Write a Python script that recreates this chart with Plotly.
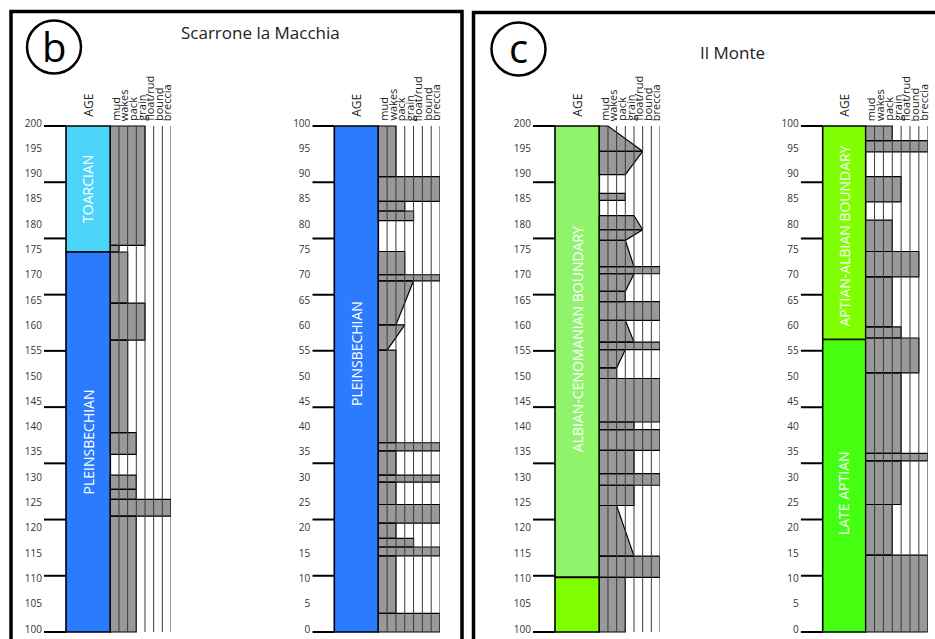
import plotly.graph_objects as go

W, H = 935, 639

# ---------------- data ----------------
TEXTURES = ["mud", "wakes", "pack", "grain", "float/rud", "bound", "breccia"]

# Scarrone la Macchia, interval 100-200
scar_hi_top = [200, 176.4, 175.1, 165.0, 157.7, 139.4, 131.0, 128.2, 126.2, 122.9]
scar_hi_base = [176.4, 175.1, 165.0, 157.7, 139.4, 135.1, 128.2, 126.2, 122.9, 100]
scar_hi_tex_top = [4, 1, 2, 4, 2, 3, 3, 3, 7, 3]
scar_hi_tex_base = [4, 1, 2, 4, 2, 3, 3, 3, 7, 3]

# Scarrone la Macchia, interval 0-100
scar_lo_top = [100, 90.0, 85.1, 83.2, 75.2, 70.6, 69.4, 60.7, 55.7, 37.4, 35.8, 31.0, 29.6, 25.2, 21.5, 18.5, 16.8, 15.05, 3.7]
scar_lo_base = [90.0, 85.1, 83.2, 81.3, 70.6, 69.4, 60.7, 55.7, 37.4, 35.8, 31.0, 29.6, 25.2, 21.5, 18.5, 16.8, 15.05, 3.7, 0]
scar_lo_tex_top = [2, 7, 3, 4, 3, 7, 4, 3, 2, 7, 2, 7, 2, 7, 2, 4, 7, 2, 7]
scar_lo_tex_base = [2, 7, 3, 4, 3, 7, 2, 1, 2, 7, 2, 7, 2, 7, 2, 4, 7, 2, 7]

# Il Monte, interval 100-200
monte_hi_top = [200, 195.0, 186.7, 182.3, 179.5, 177.4, 172.2, 170.8, 167.3, 165.3, 161.6, 157.3, 155.8, 152.2, 150.1, 141.5, 140.0, 135.9, 131.3, 129.0, 125.0, 115.0, 110.8]
monte_hi_base = [195.0, 190.4, 185.3, 179.5, 177.4, 172.2, 170.8, 167.3, 165.3, 161.6, 157.3, 155.8, 152.2, 150.1, 141.5, 140.0, 135.9, 131.3, 129.0, 125.0, 115.0, 110.8, 100]
monte_hi_tex_top = [1, 5, 3, 4, 5, 3, 7, 4, 3, 7, 3, 7, 3, 2, 7, 4, 7, 4, 7, 4, 2, 7, 3]
monte_hi_tex_base = [5, 3, 3, 5, 3, 4, 7, 3, 3, 7, 4, 7, 2, 2, 7, 4, 7, 4, 7, 4, 4, 7, 3]

# Il Monte, interval 0-100
monte_lo_top = [100, 97.1, 90.0, 81.4, 75.2, 70.2, 60.3, 58.1, 51.2, 35.3, 33.8, 25.2, 15.2]
monte_lo_base = [97.1, 94.9, 85.0, 75.2, 70.2, 60.3, 58.1, 51.2, 35.3, 33.8, 25.2, 15.2, 0]
monte_lo_tex_top = [3, 7, 4, 3, 6, 3, 4, 6, 4, 7, 4, 3, 7]
monte_lo_tex_base = [3, 7, 4, 3, 6, 3, 4, 6, 4, 7, 4, 3, 7]

# AGE units
scar_hi_age_names = ["TOARCIAN", "PLEINSBECHIAN"]
scar_hi_age_top = [200, 175.1]
scar_hi_age_base = [175.1, 100]
scar_hi_age_label_y = [187.6, 137.5]
scar_hi_age_colors = ["#4dd4fa", "#2b7bff"]

scar_lo_age_names = ["PLEINSBECHIAN"]
scar_lo_age_top = [100]
scar_lo_age_base = [0]
scar_lo_age_label_y = [55.0]
scar_lo_age_colors = ["#2b7bff"]

monte_hi_age_names = ["ALBIAN-CENOMANIAN BOUNDARY", ""]
monte_hi_age_top = [200, 110.8]
monte_hi_age_base = [110.8, 100]
monte_hi_age_label_y = [157.9, 105]
monte_hi_age_colors = ["#8ff36c", "#80ff00"]

monte_lo_age_names = ["APTIAN-ALBIAN BOUNDARY", "LATE APTIAN"]
monte_lo_age_top = [100, 57.8]
monte_lo_age_base = [57.8, 0]
monte_lo_age_label_y = [78.2, 27.5]
monte_lo_age_colors = ["#80ff00", "#44ff10"]

# axis ticks
TICK_LABELS_HI = list(range(100, 201, 5))
TICK_LABELS_LO = list(range(0, 101, 5))
TICK_MARKS_HI = [100, 111.11, 122.22, 133.33, 144.44, 155.56, 166.67, 177.78, 188.89, 200]
TICK_MARKS_LO = [0, 11.11, 22.22, 33.33, 44.44, 55.56, 66.67, 77.78, 88.89, 100]

# ---------------- layout geometry (pixels) ----------------
FONT = "Open Sans"
TICK_PX = 22
LABEL_LIFT_PX = 3          # tick labels sit slightly above their ticks
PAD_PX = 5                 # empty room above/below each log inside the axis
Y_TOP_PX, Y_BOT_PX = 126, 632
PLOT_H = Y_BOT_PX - Y_TOP_PX

columns = [
    dict(age_l=66, age_r=110.3, end=171, yr=(100, 200),
         top=scar_hi_top, base=scar_hi_base, tt=scar_hi_tex_top, tb=scar_hi_tex_base,
         an=scar_hi_age_names, at=scar_hi_age_top, ab=scar_hi_age_base,
         ay=scar_hi_age_label_y, ac=scar_hi_age_colors,
         labels=TICK_LABELS_HI, marks=TICK_MARKS_HI),
    dict(age_l=334.3, age_r=378.3, end=440, yr=(0, 100),
         top=scar_lo_top, base=scar_lo_base, tt=scar_lo_tex_top, tb=scar_lo_tex_base,
         an=scar_lo_age_names, at=scar_lo_age_top, ab=scar_lo_age_base,
         ay=scar_lo_age_label_y, ac=scar_lo_age_colors,
         labels=TICK_LABELS_LO, marks=TICK_MARKS_LO),
    dict(age_l=555, age_r=599.3, end=660, yr=(100, 200),
         top=monte_hi_top, base=monte_hi_base, tt=monte_hi_tex_top, tb=monte_hi_tex_base,
         an=monte_hi_age_names, at=monte_hi_age_top, ab=monte_hi_age_base,
         ay=monte_hi_age_label_y, ac=monte_hi_age_colors,
         labels=TICK_LABELS_HI, marks=TICK_MARKS_HI),
    dict(age_l=822.7, age_r=865.7, end=927.7, yr=(0, 100),
         top=monte_lo_top, base=monte_lo_base, tt=monte_lo_tex_top, tb=monte_lo_tex_base,
         an=monte_lo_age_names, at=monte_lo_age_top, ab=monte_lo_age_base,
         ay=monte_lo_age_label_y, ac=monte_lo_age_colors,
         labels=TICK_LABELS_LO, marks=TICK_MARKS_LO),
]

fig = go.Figure()
layout = dict(
    width=W, height=H, margin=dict(l=0, r=0, t=0, b=0, autoexpand=False),
    paper_bgcolor="white", plot_bgcolor="rgba(0,0,0,0)",
    showlegend=False, font=dict(family=FONT, color="#222"),
)
shapes = []
annotations = []
ydom = [1 - (Y_BOT_PX + PAD_PX) / H, 1 - (Y_TOP_PX - PAD_PX) / H]

for i, c in enumerate(columns):
    n = "" if i == 0 else str(i + 1)
    xa, ya = "x" + n, "y" + n
    unit = (c["end"] - c["age_r"]) / 7.0
    aw = (c["age_r"] - c["age_l"]) / unit
    tw = TICK_PX / unit
    ybot, ytop = c["yr"]
    per_px = (ytop - ybot) / PLOT_H
    lift = LABEL_LIFT_PX * per_px
    pad = PAD_PX * per_px
    layout["xaxis" + n] = dict(domain=[(c["age_l"] - TICK_PX) / W, c["end"] / W],
                               range=[-aw - tw, 7], visible=False, fixedrange=True,
                               anchor=ya, automargin=False)
    layout["yaxis" + n] = dict(domain=ydom, range=[ybot - pad, ytop + pad], anchor=xa,
                               tickmode="array", tickvals=[v + lift for v in c["labels"]],
                               ticktext=[str(v) for v in c["labels"]],
                               ticks="", showgrid=False, zeroline=False, showline=False,
                               ticklabelstandoff=1, automargin=False,
                               tickfont=dict(size=10, color="#333", family=FONT),
                               fixedrange=True)
    # AGE blocks
    for name, t, b, ly, col in zip(c["an"], c["at"], c["ab"], c["ay"], c["ac"]):
        fig.add_trace(go.Scatter(x=[-aw, 0, 0, -aw, -aw], y=[t, t, b, b, t],
                                 fill="toself", fillcolor=col, mode="lines",
                                 line=dict(color="black", width=1.6),
                                 hoverinfo="skip", xaxis=xa, yaxis=ya))
        if name:
            annotations.append(dict(x=-aw / 2, y=ly, xref=xa, yref=ya, text=name,
                                    textangle=-90, showarrow=False,
                                    xanchor="center", yanchor="middle",
                                    font=dict(size=14, color="white", family=FONT)))
    # beds
    bx, by = [], []
    for t, b, lt, lb in zip(c["top"], c["base"], c["tt"], c["tb"]):
        bx += [0, lt, lb, 0, 0, None]
        by += [t, t, b, b, t, None]
    fig.add_trace(go.Scatter(x=bx, y=by, fill="toself", fillcolor="#999999", mode="lines",
                             line=dict(color="black", width=1.2),
                             hoverinfo="skip", xaxis=xa, yaxis=ya))
    # texture grid lines
    gx, gy = [], []
    for k in range(1, 8):
        gx += [k, k, None]
        gy += [ybot, ytop, None]
    fig.add_trace(go.Scatter(x=gx, y=gy, mode="lines", line=dict(color="#3a3a3a", width=1),
                             hoverinfo="skip", xaxis=xa, yaxis=ya))
    # long tick marks
    tx, ty = [], []
    for v in c["marks"]:
        tx += [-aw - tw, -aw, None]
        ty += [v, v, None]
    fig.add_trace(go.Scatter(x=tx, y=ty, mode="lines", line=dict(color="black", width=2),
                             hoverinfo="skip", xaxis=xa, yaxis=ya))
    # headers
    annotations.append(dict(x=-aw / 2, y=ytop, xref=xa, yref=ya, text="AGE", textangle=-90,
                            showarrow=False, xanchor="center", yanchor="bottom", yshift=7,
                            font=dict(size=12, color="#222", family=FONT)))
    for k, lab in enumerate(TEXTURES):
        annotations.append(dict(x=k + 0.5, y=ytop, xref=xa, yref=ya, text=lab, textangle=-90,
                                showarrow=False, xanchor="center", yanchor="bottom", yshift=3,
                                font=dict(size=11, color="#222", family=FONT)))

# panel frames
shapes.append(dict(type="rect", xref="paper", yref="paper", x0=11 / W, x1=462 / W,
                   y0=-0.1, y1=1 - 11.5 / H, line=dict(color="black", width=3.5)))
shapes.append(dict(type="rect", xref="paper", yref="paper", x0=473.5 / W, x1=1.1,
                   y0=-0.1, y1=1 - 12.5 / H, line=dict(color="black", width=3.5)))
# circled panel letters
for cx, cy, letter in [(54, 47, "b"), (518.5, 49, "c")]:
    shapes.append(dict(type="circle", xref="paper", yref="paper",
                       x0=(cx - 27) / W, x1=(cx + 27) / W,
                       y0=1 - (cy + 26.5) / H, y1=1 - (cy - 26.5) / H,
                       line=dict(color="black", width=2.5)))
    annotations.append(dict(x=cx / W, y=1 - (cy - 1) / H, xref="paper", yref="paper", text=letter,
                            xanchor="center", yanchor="middle",
                            showarrow=False, font=dict(size=40, color="black", family=FONT)))
# titles
annotations.append(dict(x=260 / W, y=1 - 33 / H, xref="paper", yref="paper", text="Scarrone la Macchia",
                        xanchor="center", yanchor="middle",
                        showarrow=False, font=dict(size=17, color="#222", family=FONT)))
annotations.append(dict(x=732 / W, y=1 - 53 / H, xref="paper", yref="paper", text="Il Monte",
                        xanchor="center", yanchor="middle",
                        showarrow=False, font=dict(size=17, color="#222", family=FONT)))

layout["shapes"] = shapes
layout["annotations"] = annotations
fig.update_layout(**layout)

PAGE_FIX = (
    "document.documentElement.style.margin='0px';"
    "document.documentElement.style.overflow='hidden';"
    "document.body.style.margin='0px';document.body.style.overflow='hidden';"
    "var gd=document.getElementById('{plot_id}');"
    "gd.style.position='fixed';gd.style.left='0px';gd.style.top='0px';"
)
fig.write_html("out.html", config={"displayModeBar": False}, post_script=PAGE_FIX)
